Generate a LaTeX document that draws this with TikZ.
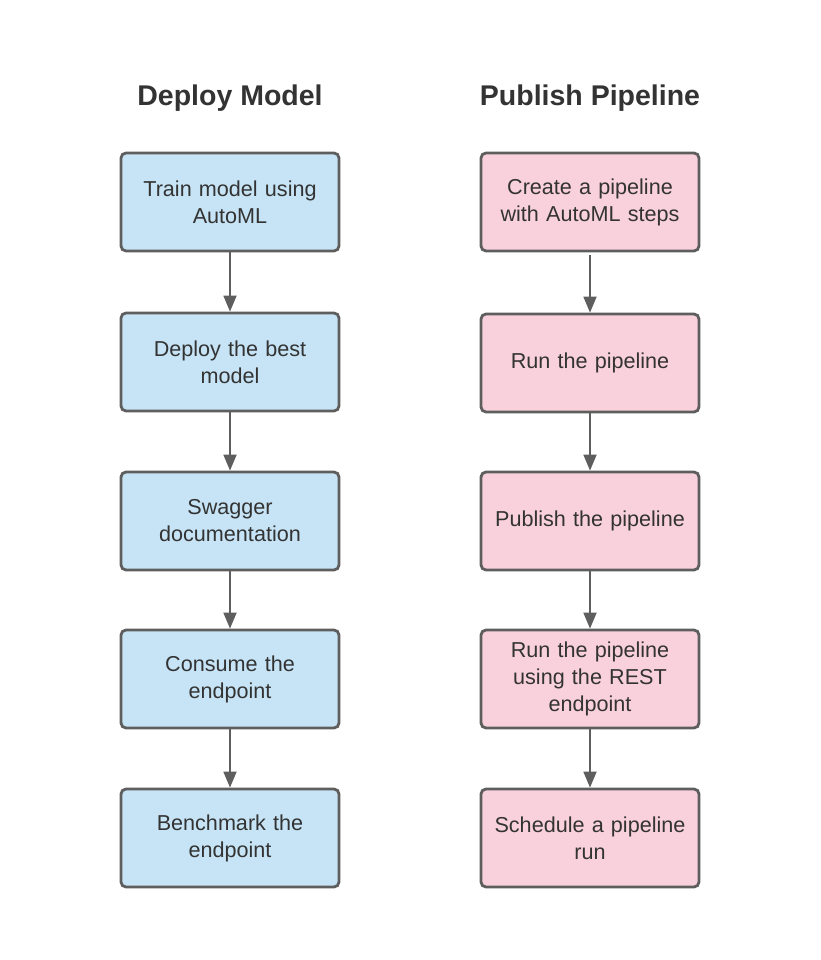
\documentclass[tikz,border=0pt]{standalone}
\usepackage{fontspec}
\setmainfont{Liberation Sans}
\usetikzlibrary{arrows.meta}
\definecolor{edgegray}{HTML}{5E5E5E}
\definecolor{txt}{HTML}{333333}
\definecolor{bluefill}{HTML}{C6E4F5}
\definecolor{pinkfill}{HTML}{F9D1DC}
\tikzset{
  x=1pt, y=-1pt,
  box/.style={draw=edgegray, line width=2.8pt, rounded corners=5pt,
    minimum width=218pt, minimum height=98pt, inner sep=0pt,
    text width=210pt, align=center, text=txt,
    font=\fontsize{21.6}{27}\selectfont},
  bluebox/.style={box, fill=bluefill},
  pinkbox/.style={box, fill=pinkfill},
  ttl/.style={text=txt, font=\fontsize{28.5}{32}\selectfont\bfseries},
  conn/.style={draw=edgegray, line width=1.8pt, -{Triangle[length=16pt,width=13pt]}}
}
\begin{document}
\begin{tikzpicture}
\fill[white] (0,0) rectangle (820,960);
\node[ttl] (t1) at (230,98) {Deploy Model};
\node[ttl] (t2) at (590,98) {Publish Pipeline};

\node[bluebox] (a1) at (230,202) {Train model using\\AutoML};
\node[bluebox] (a2) at (230,362) {Deploy the best\\model};
\node[bluebox] (a3) at (230,521) {Swagger\\documentation};
\node[bluebox] (a4) at (230,679) {Consume the\\endpoint};
\node[bluebox] (a5) at (230,838) {Benchmark the\\endpoint};

\node[pinkbox] (b1) at (590,202) {Create a pipeline\\with AutoML steps};
\node[pinkbox] (b2) at (590,363) {Run the pipeline};
\node[pinkbox] (b3) at (590,521) {Publish the pipeline};
\node[pinkbox] (b4) at (590,679) {Run the pipeline\\using the REST\\endpoint};
\node[pinkbox] (b5) at (590,838) {Schedule a pipeline\\run};

\draw[conn] (a1) -- (a2);
\draw[conn] (a2) -- (a3);
\draw[conn] (a3) -- (a4);
\draw[conn] (a4) -- (a5);
\draw[conn] (b1.south) ++(0,3) coordinate (b1s) (b1s) -- (b2);
\draw[conn] (b2) -- (b3);
\draw[conn] (b3) -- (b4);
\draw[conn] (b4) -- (b5);
\end{tikzpicture}
\end{document}
